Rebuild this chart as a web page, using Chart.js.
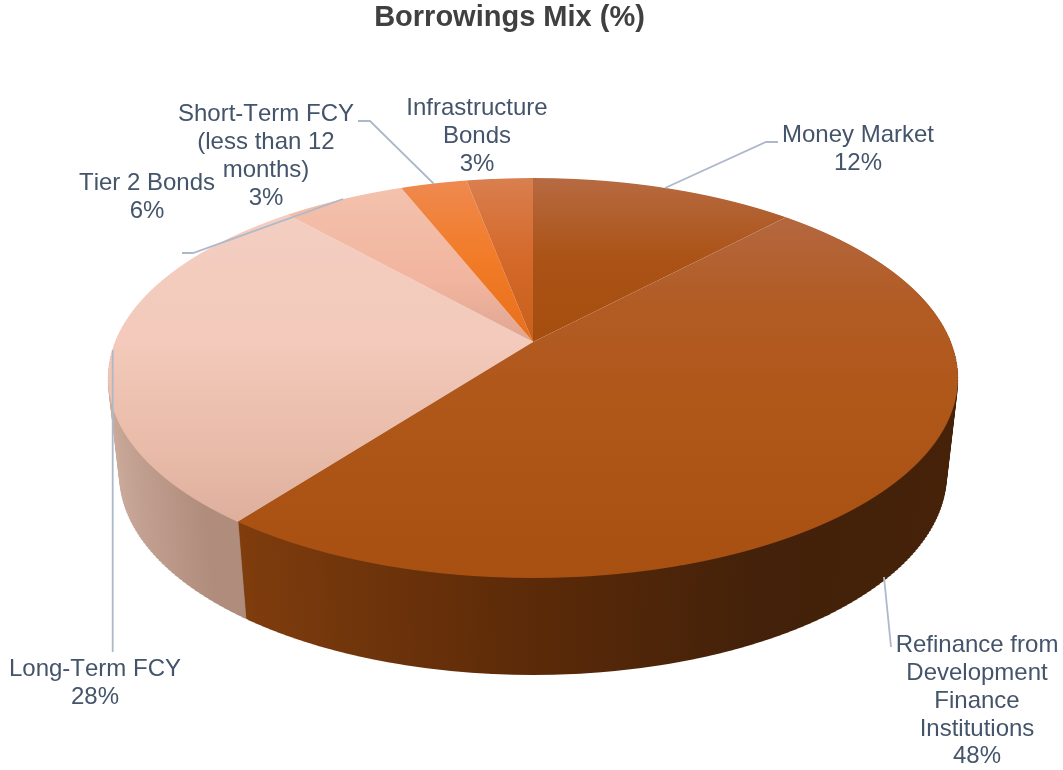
<!DOCTYPE html>
<html>
<head>
<meta charset="utf-8">
<title>Borrowings Mix (%)</title>
<script src="https://cdn.jsdelivr.net/npm/chart.js@4"></script>
<style>
  html, body { margin: 0; padding: 0; background: #fff; }
  canvas { display: block; }
</style>
</head>
<body>
<canvas id="grafico" width="1063" height="770"></canvas>
<script>
const titulo = "Borrowings Mix (%)";
const categorias = [
    ["Money Market"],
    ["Refinance from", "Development", "Finance", "Institutions"],
    ["Long-Term FCY"],
    ["Tier 2 Bonds"],
    ["Short-Term FCY", "(less than 12", "months)"],
    ["Infrastructure", "Bonds"]
];
const valores = [12, 48.35, 28.05, 5.6, 3, 3];

// top face colours of each slice, top to bottom of the disc
const caras = [
    [[0, "#b76a42"], [0.27, "#ab5316"], [0.5, "#a64d10"], [1, "#a64d10"]],
    [[0, "#b76a42"], [0.14, "#b4673f"], [0.39, "#b25c25"], [0.64, "#b0571a"], [1, "#a84f12"]],
    [[0, "#f3cfc3"], [0.5, "#f3cabb"], [0.75, "#e9bba9"], [0.9, "#ddaf9c"], [1, "#ddaf9c"]],
    [[0, "#f3c3ae"], [0.33, "#f2b59f"], [0.5, "#dfa692"], [1, "#dfa692"]],
    [[0, "#ee8a52"], [0.27, "#f27b27"], [0.5, "#e8701d"], [1, "#e8701d"]],
    [[0, "#d97f4f"], [0.27, "#d4692a"], [0.5, "#c8601b"], [1, "#c8601b"]]
];
// side wall colours, left to right
const paredes = {
    1: [[0, "#8a4210"], [0.16, "#843f0e"], [0.5, "#5b2a08"], [0.73, "#43210a"], [1, "#452208"]],
    2: [[0, "#cfae9f"], [0.16, "#b08c7c"], [1, "#b08c7c"]]
};

// perspective of the disc on the page
const persp = { cx: 533, cy: 342, R: 418, H: 193.5, k: 0.18 };
const alto = 97;
const encoge = 0.027;

// label placement: centre x, first line y, line height and leader line
const etiquetas = [
    { x: 858, y: 135, lh: 28, linea: [[665, 188], [766, 142], [778, 142]] },
    { x: 977, y: 645.5, lh: 27.8, linea: [[884, 577], [891, 647]] },
    { x: 95, y: 669.5, lh: 27.5, linea: [[112.7, 350], [112.7, 652]] },
    { x: 147, y: 183.5, lh: 28, linea: [[182, 253], [193, 253], [343, 199]] },
    { x: 266, y: 114.5, lh: 28, linea: [[358, 121], [370, 121], [434, 184]] },
    { x: 477, y: 108.5, lh: 28, linea: [] }
];

function gradiente(ctx, x0, y0, x1, y1, paradas) {
    let g = ctx.createLinearGradient(x0, y0, x1, y1);
    paradas.forEach(p => g.addColorStop(p[0], p[1]));
    return g;
}

// paints the arcs one screen row at a time, each row with its own scale,
// so the flat pie of the library ends up in perspective
function pintarDisco(chart, arcos, baja, paso) {
    const ctx = chart.ctx;
    const r = arcos[0].outerRadius;
    const X0 = arcos[0].x, Y0 = arcos[0].y;
    const f = 1 - encoge * baja / alto;
    const yTop = Math.floor(persp.cy - persp.H / (1 + persp.k));
    const yBot = Math.ceil(persp.cy + persp.H / (1 - persp.k));
    for (let y = yTop; y <= yBot; y += paso) {
        const ym = y + paso / 2;
        const s = (persp.cy - ym) / persp.H;
        const v = s / (1 - persp.k * s);
        if (v > 1.03 || v < -1.03) continue;
        if (baja > 0 && v > 0.3) continue;
        const w = 1 + persp.k * v;
        const sx = f * persp.R / (w * r);
        const sy = persp.H / (w * w * r);
        const Ym = Y0 - r * v;
        ctx.save();
        ctx.beginPath();
        ctx.rect(0, y + baja, chart.width, paso);
        ctx.clip();
        ctx.setTransform(sx, 0, 0, sy, persp.cx - sx * X0, ym + baja - sy * Ym);
        arcos.forEach(a => a.draw(ctx));
        ctx.restore();
    }
}

const pie3d = {
    id: "pie3d",
    beforeDatasetsDraw(chart) {
        const arcos = chart.getDatasetMeta(0).data;
        const r = arcos[0].outerRadius, X0 = arcos[0].x;
        const muro = Object.keys(paredes).map(i => {
            let copia = Object.create(arcos[i]);
            copia.options = Object.assign({}, arcos[i].options, {
                backgroundColor: gradiente(chart.ctx, X0 - r, 0, X0 + r, 0, paredes[i])
            });
            return copia;
        });
        for (let d = alto; d >= 1; d--) pintarDisco(chart, muro, d, 3);
        pintarDisco(chart, arcos, 0, 1);
        return false;
    },
    afterDraw(chart) {
        const ctx = chart.ctx;
        ctx.save();
        ctx.strokeStyle = "#adb9ca";
        ctx.lineWidth = 1.8;
        etiquetas.forEach(e => {
            if (!e.linea.length) return;
            ctx.beginPath();
            e.linea.forEach((p, i) => i ? ctx.lineTo(p[0], p[1]) : ctx.moveTo(p[0], p[1]));
            ctx.stroke();
        });
        ctx.fillStyle = "#44546a";
        ctx.font = '24px "Liberation Sans", Arial, sans-serif';
        ctx.fontKerning = "none";
        ctx.textAlign = "center";
        ctx.textBaseline = "middle";
        etiquetas.forEach((e, i) => {
            const filas = categorias[i].concat(Math.round(valores[i]) + "%");
            filas.forEach((t, j) => ctx.fillText(t, e.x, e.y + j * e.lh));
        });
        ctx.restore();
    }
};

new Chart(document.getElementById("grafico"), {
    type: "pie",
    data: {
        labels: categorias,
        datasets: [{
            data: valores,
            borderWidth: 0,
            backgroundColor: (c) => {
                const area = c.chart.chartArea;
                if (!area) return "#a84f12";
                return gradiente(c.chart.ctx, 0, area.top, 0, area.bottom, caras[c.dataIndex]);
            }
        }]
    },
    options: {
        responsive: false,
        animation: false,
        layout: { padding: { right: 44, top: 1 } },
        plugins: {
            legend: { display: false },
            tooltip: { enabled: false },
            title: {
                display: true,
                text: titulo,
                color: "#404040",
                font: { family: '"Liberation Sans", Arial, sans-serif', size: 29, weight: "bold" },
                padding: { top: 0, bottom: 10 }
            }
        }
    },
    plugins: [pie3d]
});
</script>
</body>
</html>
